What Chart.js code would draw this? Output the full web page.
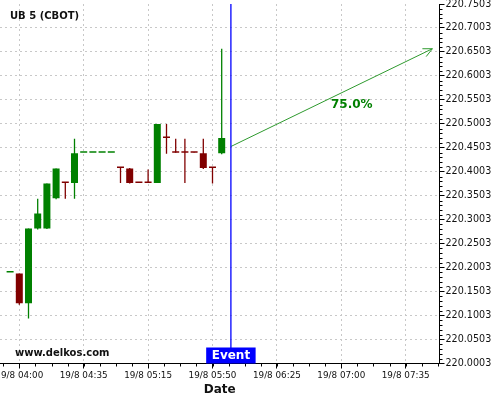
<!DOCTYPE html>
<html>
<head>
<meta charset="utf-8">
<script src="https://cdn.jsdelivr.net/npm/chart.js@4"></script>
<style>
  html, body { margin: 0; padding: 0; background: #fff; }
  #wrap { width: 500px; height: 400px; }
</style>
</head>
<body>
<div id="wrap"><canvas id="chart" width="500" height="400"></canvas></div>
<script>
"use strict";

// 5-minute slots, 0 = 19/8 04:00
const slots = [-1, 0, 1, 2, 3, 4, 5, 6, 7, 8, 9, 10, 11, 12, 13, 14, 15, 16, 17, 18, 19, 20, 21, 22];
const opens = [220.190, 220.188, 220.126, 220.282, 220.282, 220.345, 220.378, 220.377, 220.440, 220.440, 220.440, 220.440,
  220.409, 220.407, 220.378, 220.378, 220.377, 220.472, 220.441, 220.441, 220.441, 220.439, 220.409, 220.439];
const highs = [220.190, 220.188, 220.282, 220.344, 220.376, 220.407, 220.378, 220.469, 220.440, 220.440, 220.440, 220.440,
  220.409, 220.408, 220.378, 220.405, 220.500, 220.500, 220.469, 220.469, 220.441, 220.469, 220.409, 220.657];
const lows = [220.190, 220.123, 220.094, 220.280, 220.281, 220.343, 220.344, 220.344, 220.440, 220.440, 220.440, 220.440,
  220.377, 220.376, 220.377, 220.377, 220.377, 220.438, 220.440, 220.377, 220.440, 220.406, 220.376, 220.437];
const closes = [220.190, 220.126, 220.282, 220.313, 220.376, 220.407, 220.377, 220.439, 220.440, 220.440, 220.440, 220.440,
  220.408, 220.377, 220.377, 220.377, 220.500, 220.471, 220.440, 220.440, 220.440, 220.408, 220.408, 220.471];

const tickSlots = [0, 7, 14, 21, 28, 35, 42];
const tickLabels = ["19/8 04:00", "19/8 04:35", "19/8 05:15", "19/8 05:50", "19/8 06:25", "19/8 07:00", "19/8 07:35"];
const yTicks = [220.0003, 220.0503, 220.1003, 220.1503, 220.2003, 220.2503, 220.3003, 220.3503,
  220.4003, 220.4503, 220.5003, 220.5503, 220.6003, 220.6503, 220.7003, 220.7503];

const eventSlot = 23;
const forecastSlots = [23, 44.9];
const forecastValues = [220.453, 220.657];
const forecastLabel = "75.0%";

const UP = "#008000";
const DOWN = "#800000";
const colors = slots.map((s, i) => (closes[i] >= opens[i] ? UP : DOWN));

const bodies = slots.map((s, i) => ({ x: s, y: [Math.min(opens[i], closes[i]), Math.max(opens[i], closes[i])] }));
const wicks = slots.map((s, i) => ({ x: s, y: [lows[i], highs[i]] }));

const overlay = {
  id: "overlay",
  afterDraw(chart) {
    const { ctx, chartArea: a, scales: { x, y } } = chart;
    ctx.save();

    // minor ticks
    ctx.strokeStyle = "#000";
    ctx.lineWidth = 1;
    ctx.beginPath();
    for (let k = -1; k * 1.75 <= x.max; k++) {
      const v = k * 1.75;
      if (v < x.min) continue;
      const px = Math.round(x.getPixelForValue(v)) + 0.5;
      ctx.moveTo(px, a.bottom);
      ctx.lineTo(px, a.bottom + 3);
    }
    for (let k = 0; k <= 75; k++) {
      if (k % 5 === 0) continue;
      const py = Math.round(y.getPixelForValue(220.0003 + k * 0.01)) + 0.5;
      ctx.moveTo(a.right, py);
      ctx.lineTo(a.right + 3, py);
    }
    ctx.stroke();

    // forecast arrow head + label
    const pts = chart.getDatasetMeta(3).data;
    const p0 = pts[0], p1 = pts[1];
    const ang = Math.atan2(p1.y - p0.y, p1.x - p0.x);
    ctx.strokeStyle = "#2e9a2e";
    ctx.beginPath();
    for (const d of [-0.45, 0.45]) {
      ctx.moveTo(p1.x, p1.y);
      ctx.lineTo(p1.x - 10 * Math.cos(ang + d), p1.y - 10 * Math.sin(ang + d));
    }
    ctx.stroke();
    const tx = p0.x + (p1.x - p0.x) * 0.6;
    const ty = p0.y + (p1.y - p0.y) * 0.6 + 17;
    ctx.font = 'bold 12px "DejaVu Sans"';
    ctx.fillStyle = "#008000";
    ctx.textAlign = "center";
    ctx.textBaseline = "middle";
    ctx.fillText(forecastLabel, tx, ty);

    // title and watermark
    ctx.fillStyle = "#111";
    ctx.textAlign = "left";
    ctx.font = 'bold 10px "DejaVu Sans"';
    ctx.fillText("UB 5 (CBOT)", 10, 16);
    ctx.fillText("www.delkos.com", 15, a.bottom - 10);

    // event tag
    const ex = x.getPixelForValue(eventSlot);
    ctx.font = 'bold 12px "DejaVu Sans"';
    const w = ctx.measureText("Event").width + 11;
    ctx.fillStyle = "#0000ff";
    ctx.fillRect(ex - w / 2, a.bottom - 16, w, 16);
    ctx.fillStyle = "#fff";
    ctx.textAlign = "center";
    ctx.fillText("Event", ex, a.bottom - 7.5);
    ctx.restore();
  },
};

new Chart(document.getElementById("chart"), {
  type: "bar",
  data: {
    datasets: [
      {
        data: bodies,
        backgroundColor: colors,
        barThickness: 7,
        minBarLength: 1.5,
        inflateAmount: 0,
        grouped: false,
      },
      {
        data: wicks,
        backgroundColor: colors,
        barThickness: 1.3,
        inflateAmount: 0,
        grouped: false,
      },
      {
        data: [{ x: eventSlot, y: [yTicks[0], yTicks[yTicks.length - 1]] }],
        backgroundColor: "#0000ff",
        barThickness: 1.3,
        inflateAmount: 0,
        grouped: false,
      },
      {
        type: "line",
        data: forecastSlots.map((s, i) => ({ x: s, y: forecastValues[i] })),
        borderColor: "#2e9a2e",
        borderWidth: 1,
        pointRadius: 0,
        fill: false,
      },
    ],
  },
  options: {
    responsive: false,
    animation: false,
    devicePixelRatio: 1,
    layout: { padding: { top: 4, left: 0, right: 0, bottom: 0 } },
    plugins: { legend: { display: false }, tooltip: { enabled: false } },
    scales: {
      x: {
        type: "linear",
        offset: false,
        min: -2.098,
        max: 45.674,
        afterBuildTicks: (s) => { s.ticks = tickSlots.map((v) => ({ value: v })); },
        afterFit: (s) => { s.height = 36.5; s.paddingLeft = 0; s.paddingRight = 0; },
        ticks: {
          autoSkip: false,
          maxRotation: 0,
          padding: 2,
          color: "#111",
          font: { family: "DejaVu Sans", size: 8.8 },
          callback: (v, i) => tickLabels[i],
        },
        grid: { offset: false, color: "#c8c8c8", tickColor: "#000", tickLength: 5 },
        border: { color: "#000", width: 1, dash: [2, 3] },
        title: {
          display: true,
          text: "Date",
          color: "#111",
          font: { family: "DejaVu Sans", size: 12, weight: "bold" },
          padding: { top: 0, bottom: 3 },
        },
      },
      y: {
        position: "right",
        min: yTicks[0],
        max: yTicks[yTicks.length - 1],
        beginAtZero: false,
        afterBuildTicks: (s) => { s.ticks = yTicks.map((v) => ({ value: v })); },
        afterFit: (s) => { s.width = 60.5; s.paddingTop = 0; s.paddingBottom = 0; },
        ticks: {
          padding: 1,
          color: "#111",
          font: { family: "DejaVu Sans", size: 9.6 },
          callback: (v) => Number(v).toFixed(4),
        },
        grid: {
          color: (c) => (c.index === yTicks.length - 1 ? "rgba(0,0,0,0)" : "#c8c8c8"),
          tickColor: "#000",
          tickLength: 5,
        },
        border: { color: "#000", width: 1, dash: [2, 3] },
      },
    },
  },
  plugins: [overlay],
});
</script>
</body>
</html>
